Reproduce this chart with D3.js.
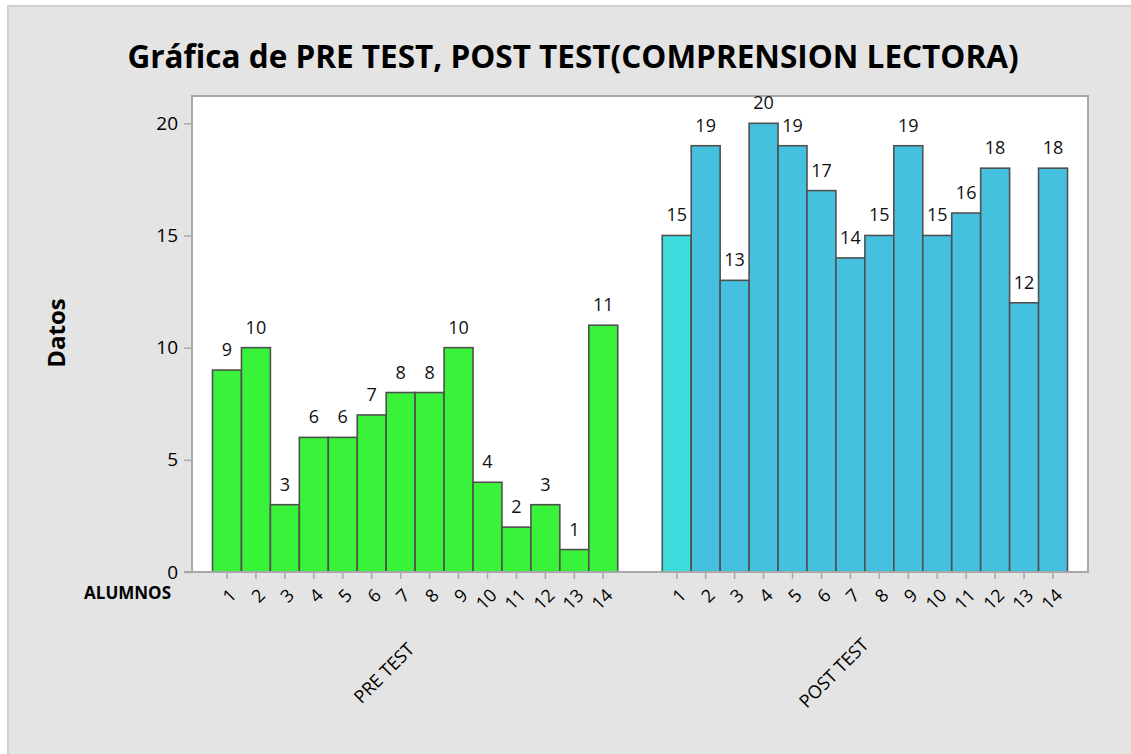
<!DOCTYPE html>
<html>
<head>
<meta charset="utf-8">
<script src="https://cdn.jsdelivr.net/npm/d3@7"></script>
<style>
	body { margin: 0; background: #fff; }
	text { font-family: "Open Sans", "Noto Sans", sans-serif; }
</style>
</head>
<body>
<script>
// datos
let groups = 	['PRE TEST', 'POST TEST']
let alumnos = 	['1','2','3','4','5','6','7','8','9','10','11','12','13','14']
let preTest = 	[9, 10, 3, 6, 6, 7, 8, 8, 10, 4, 2, 3, 1, 11]
let postTest = 	[15, 19, 13, 20, 19, 17, 14, 15, 19, 15, 16, 18, 12, 18]
let yTicks = 	[0, 5, 10, 15, 20]

let W = 1131, H = 754
let px0 = 192, px1 = 1088, py0 = 96, py1 = 572

let svg = d3.select('body').append('svg')
	.attr('width', W).attr('height', H)

// fondo
svg.append('rect')
	.attr('x', 8).attr('y', 6).attr('width', W + 10).attr('height', H + 10)
	.style('fill', '#e4e4e4').style('stroke', '#cfcfcf').attr('stroke-width', 2)

svg.append('rect')
	.attr('x', px0).attr('y', py0).attr('width', px1 - px0).attr('height', py1 - py0)
	.style('fill', 'white').style('stroke', '#a8a8a8').attr('stroke-width', 2)

let y = d3.scaleLinear().domain([0, 20]).range([py1, 123.3])

let xGroup = d3.scaleBand().domain(groups).range([px0, px1])
	.paddingInner(0.099).paddingOuter(0.0456)
let xInner = d3.scaleBand().domain(alumnos).range([0, xGroup.bandwidth()]).padding(0)

let series = [
	{name: 'PRE TEST', values: preTest},
	{name: 'POST TEST', values: postTest}
]

let barColor = function(g, i) {
	if (g == 'PRE TEST') return '#39f23a'
	if (i == 0) return '#3edddd'
	return '#45c1df'
}

// barras
series.forEach(function(s) {
	let g = svg.append('g').attr('transform', `translate(${xGroup(s.name)},0)`)
	g.selectAll('rect').data(s.values).enter().append('rect')
		.attr('x', (d, i) => xInner(alumnos[i]))
		.attr('y', d => y(d))
		.attr('width', xInner.bandwidth())
		.attr('height', d => y(0) - y(d))
		.style('fill', (d, i) => barColor(s.name, i))
		.style('stroke', '#505050').attr('stroke-width', 1.6)
	g.selectAll('text.val').data(s.values).enter().append('text')
		.attr('class', 'val')
		.attr('x', (d, i) => xInner(alumnos[i]) + xInner.bandwidth() / 2)
		.attr('y', d => y(d) - 14)
		.attr('text-anchor', 'middle')
		.style('font-size', '18px').style('fill', '#111')
		.text(d => d)

	// eje x de cada grupo
	let ax = g.append('g').attr('transform', `translate(0,${py1})`)
		.call(d3.axisBottom(xInner).tickSize(7))
	ax.select('.domain').remove()
	ax.selectAll('.tick line').style('stroke', '#a8a8a8').attr('stroke-width', 1.5)
	ax.selectAll('.tick text')
		.style('font-size', '18px').style('fill', 'black')
		.style('font-family', '"Open Sans", sans-serif')
		.attr('text-anchor', 'end')
		.attr('x', 0).attr('y', 0)
		.attr('dy', '0.35em')
		.attr('transform', 'translate(6,20) rotate(-45)')

	svg.append('text')
		.attr('transform', `translate(${xGroup(s.name) + xGroup.bandwidth() / 2 - 31},673) rotate(-45)`)
		.attr('text-anchor', 'middle')
		.attr('dy', '0.35em')
		.style('font-size', '18px').style('fill', 'black')
		.text(s.name)
})

// linea del eje x
svg.append('line')
	.attr('x1', 184).attr('x2', px1)
	.attr('y1', py1).attr('y2', py1)
	.style('stroke', '#a8a8a8').attr('stroke-width', 2)

// eje y
let ay = svg.append('g').attr('transform', `translate(${px0},0)`)
	.call(d3.axisLeft(y).tickValues(yTicks).tickSize(8).tickPadding(6))
ay.select('.domain').remove()
ay.selectAll('.tick line').style('stroke', '#a8a8a8').attr('stroke-width', 1.5)
ay.selectAll('.tick text').style('font-size', '19px').style('fill', 'black')
	.style('font-family', '"Open Sans", sans-serif')

svg.append('text')
	.attr('x', 171).attr('y', 599)
	.attr('text-anchor', 'end')
	.style('font-size', '17px').style('font-weight', 'bold')
	.text('ALUMNOS')

svg.append('text')
	.attr('transform', 'translate(57,333) rotate(-90)')
	.attr('text-anchor', 'middle')
	.attr('dy', '0.35em')
	.style('font-size', '24px').style('font-weight', 'bold')
	.text('Datos')

svg.append('text')
	.attr('x', 573).attr('y', 68)
	.attr('text-anchor', 'middle')
	.style('font-size', '31.5px').style('font-weight', 'bold')
	.text('Gráfica de PRE TEST, POST TEST(COMPRENSION LECTORA)')
</script>
</body>
</html>
